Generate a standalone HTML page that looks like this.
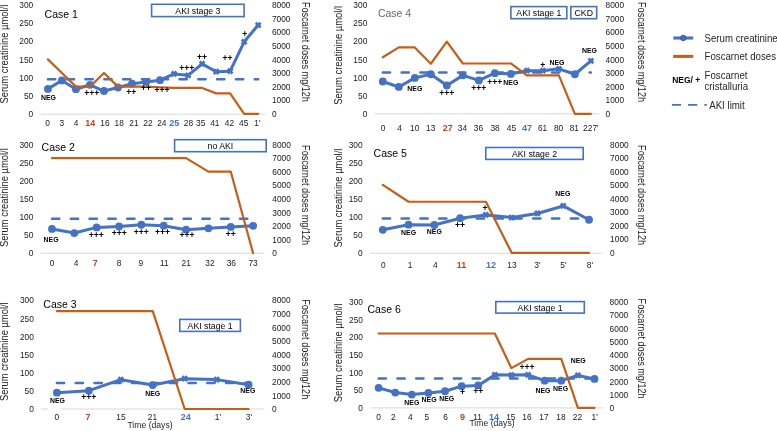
<!DOCTYPE html>
<html><head><meta charset="utf-8"><style>
html,body{margin:0;padding:0;background:#fff;width:777px;height:431px;overflow:hidden}
svg{display:block;font-family:"Liberation Sans", sans-serif;will-change:transform}
</style></head><body>
<svg width="777" height="431" viewBox="0 0 777 431">

<text transform="translate(33.20,116.99) scale(0.930,1)" font-size="9.0" text-anchor="end" fill="#202020" font-weight="normal">0</text>
<text transform="translate(33.20,98.86) scale(0.930,1)" font-size="9.0" text-anchor="end" fill="#202020" font-weight="normal">50</text>
<text transform="translate(33.20,80.73) scale(0.930,1)" font-size="9.0" text-anchor="end" fill="#202020" font-weight="normal">100</text>
<text transform="translate(33.20,62.59) scale(0.930,1)" font-size="9.0" text-anchor="end" fill="#202020" font-weight="normal">150</text>
<text transform="translate(33.20,44.46) scale(0.930,1)" font-size="9.0" text-anchor="end" fill="#202020" font-weight="normal">200</text>
<text transform="translate(33.20,26.33) scale(0.930,1)" font-size="9.0" text-anchor="end" fill="#202020" font-weight="normal">250</text>
<text transform="translate(33.20,8.20) scale(0.930,1)" font-size="9.0" text-anchor="end" fill="#202020" font-weight="normal">300</text>
<text transform="translate(271.90,116.99) scale(0.930,1)" font-size="9.0" text-anchor="start" fill="#202020" font-weight="normal">0</text>
<text transform="translate(271.90,103.39) scale(0.930,1)" font-size="9.0" text-anchor="start" fill="#202020" font-weight="normal">1000</text>
<text transform="translate(271.90,89.79) scale(0.930,1)" font-size="9.0" text-anchor="start" fill="#202020" font-weight="normal">2000</text>
<text transform="translate(271.90,76.19) scale(0.930,1)" font-size="9.0" text-anchor="start" fill="#202020" font-weight="normal">3000</text>
<text transform="translate(271.90,62.59) scale(0.930,1)" font-size="9.0" text-anchor="start" fill="#202020" font-weight="normal">4000</text>
<text transform="translate(271.90,48.99) scale(0.930,1)" font-size="9.0" text-anchor="start" fill="#202020" font-weight="normal">5000</text>
<text transform="translate(271.90,35.40) scale(0.930,1)" font-size="9.0" text-anchor="start" fill="#202020" font-weight="normal">6000</text>
<text transform="translate(271.90,21.79) scale(0.930,1)" font-size="9.0" text-anchor="start" fill="#202020" font-weight="normal">7000</text>
<text transform="translate(271.90,8.20) scale(0.930,1)" font-size="9.0" text-anchor="start" fill="#202020" font-weight="normal">8000</text>
<line x1="40.90" y1="114.20" x2="265.20" y2="114.20" stroke="#d9d9d9" stroke-width="1.0"/>
<text transform="translate(47.70,125.89) scale(0.930,1)" font-size="9.0" text-anchor="middle" fill="#202020" font-weight="normal">0</text>
<text transform="translate(61.90,125.89) scale(0.930,1)" font-size="9.0" text-anchor="middle" fill="#202020" font-weight="normal">3</text>
<text transform="translate(76.10,125.89) scale(0.930,1)" font-size="9.0" text-anchor="middle" fill="#202020" font-weight="normal">4</text>
<text x="90.30" y="125.89" font-size="9.0" text-anchor="middle" fill="#c5401f" font-weight="bold" >14</text>
<text transform="translate(105.00,125.89) scale(0.930,1)" font-size="9.0" text-anchor="middle" fill="#202020" font-weight="normal">16</text>
<text transform="translate(119.20,125.89) scale(0.930,1)" font-size="9.0" text-anchor="middle" fill="#202020" font-weight="normal">18</text>
<text transform="translate(134.00,125.89) scale(0.930,1)" font-size="9.0" text-anchor="middle" fill="#202020" font-weight="normal">21</text>
<text transform="translate(148.00,125.89) scale(0.930,1)" font-size="9.0" text-anchor="middle" fill="#202020" font-weight="normal">22</text>
<text transform="translate(161.80,125.89) scale(0.930,1)" font-size="9.0" text-anchor="middle" fill="#202020" font-weight="normal">24</text>
<text x="174.30" y="125.89" font-size="9.0" text-anchor="middle" fill="#4472c4" font-weight="bold" >25</text>
<text transform="translate(188.50,125.89) scale(0.930,1)" font-size="9.0" text-anchor="middle" fill="#202020" font-weight="normal">28</text>
<text transform="translate(200.70,125.89) scale(0.930,1)" font-size="9.0" text-anchor="middle" fill="#202020" font-weight="normal">35</text>
<text transform="translate(214.80,125.89) scale(0.930,1)" font-size="9.0" text-anchor="middle" fill="#202020" font-weight="normal">41</text>
<text transform="translate(229.50,125.89) scale(0.930,1)" font-size="9.0" text-anchor="middle" fill="#202020" font-weight="normal">42</text>
<text transform="translate(243.70,125.89) scale(0.930,1)" font-size="9.0" text-anchor="middle" fill="#202020" font-weight="normal">45</text>
<text transform="translate(257.50,125.89) scale(0.930,1)" font-size="9.0" text-anchor="middle" fill="#202020" font-weight="normal">1'</text>
<text x="0.00" y="0.00" font-size="10.0" text-anchor="middle" fill="#202020" font-weight="normal" transform="translate(8.30,54.10) rotate(-90) scale(0.94,1)">Serum creatinine µmol/l</text>
<text x="0.00" y="0.00" font-size="10.0" text-anchor="middle" fill="#202020" font-weight="normal" transform="translate(301.70,51.90) rotate(90) scale(0.91,1)">Foscarnet doses mg/12h</text>
<text x="44.60" y="18.00" font-size="10.5" text-anchor="start" fill="#000" font-weight="normal" >Case 1</text>
<rect x="151.60" y="4.30" width="92.50" height="12.30" fill="#fff" stroke="#4472c4" stroke-width="1.6"/>
<text transform="translate(197.85,14.16) scale(0.890,1)" font-size="9.8" text-anchor="middle" fill="#000" font-weight="normal">AKI stage 3</text>
<line x1="47.91" y1="79.35" x2="258.19" y2="79.35" stroke="#4472c4" stroke-width="2.5" stroke-dasharray="7.3 11.5" stroke-linecap="round"/>
<polyline points="47.91,88.88 61.93,80.47 75.95,89.21 89.97,84.79 103.98,91.02 118.00,87.51 132.02,83.70 146.04,81.89 160.06,80.22 174.08,73.91 188.10,75.36 202.12,63.86 216.13,71.73 230.15,71.19 244.17,41.81 258.19,25.06" fill="none" stroke="#4472c4" stroke-width="3" stroke-linejoin="round"/>
<circle cx="47.91" cy="88.88" r="3.9" fill="#4472c4"/>
<circle cx="61.93" cy="80.47" r="3.9" fill="#4472c4"/>
<circle cx="75.95" cy="89.21" r="3.9" fill="#4472c4"/>
<circle cx="89.97" cy="84.79" r="3.9" fill="#4472c4"/>
<circle cx="103.98" cy="91.02" r="3.9" fill="#4472c4"/>
<circle cx="118.00" cy="87.51" r="3.9" fill="#4472c4"/>
<circle cx="132.02" cy="83.70" r="3.9" fill="#4472c4"/>
<circle cx="146.04" cy="81.89" r="3.9" fill="#4472c4"/>
<circle cx="160.06" cy="80.22" r="3.9" fill="#4472c4"/>
<path d="M171.68,71.51L176.48,76.31M176.48,71.51L171.68,76.31" stroke="#4472c4" stroke-width="2.8" stroke-linecap="butt"/>
<path d="M185.70,72.96L190.50,77.76M190.50,72.96L185.70,77.76" stroke="#4472c4" stroke-width="2.8" stroke-linecap="butt"/>
<path d="M199.72,61.46L204.52,66.26M204.52,61.46L199.72,66.26" stroke="#4472c4" stroke-width="2.8" stroke-linecap="butt"/>
<path d="M213.73,69.33L218.53,74.13M218.53,69.33L213.73,74.13" stroke="#4472c4" stroke-width="2.8" stroke-linecap="butt"/>
<path d="M227.75,68.79L232.55,73.59M232.55,68.79L227.75,73.59" stroke="#4472c4" stroke-width="2.8" stroke-linecap="butt"/>
<path d="M241.77,39.41L246.57,44.21M246.57,39.41L241.77,44.21" stroke="#4472c4" stroke-width="2.8" stroke-linecap="butt"/>
<path d="M255.79,22.66L260.59,27.46M260.59,22.66L255.79,27.46" stroke="#4472c4" stroke-width="2.8" stroke-linecap="butt"/>
<polyline points="47.91,59.40 61.93,73.00 75.95,86.60 89.97,86.60 103.98,73.00 118.00,86.60 132.02,86.60 146.04,86.60 160.06,87.28 174.08,87.96 188.10,87.96 202.12,87.96 216.13,93.40 230.15,93.40 244.17,113.80 258.19,113.80" fill="none" stroke="#c55e17" stroke-width="2.2" stroke-linejoin="round" stroke-linecap="round"/>
<text transform="translate(48.41,99.71) scale(0.950,1)" font-size="7.3" text-anchor="middle" fill="#000" font-weight="bold">NEG</text>
<text x="91.67" y="96.44" font-size="8.6" text-anchor="middle" fill="#000" font-weight="bold" >+++</text>
<text x="131.32" y="94.84" font-size="8.6" text-anchor="middle" fill="#000" font-weight="bold" >++</text>
<text x="146.04" y="91.44" font-size="8.6" text-anchor="middle" fill="#000" font-weight="bold" >++</text>
<text x="162.06" y="93.24" font-size="8.6" text-anchor="middle" fill="#000" font-weight="bold" >+++</text>
<text x="186.70" y="70.84" font-size="8.6" text-anchor="middle" fill="#000" font-weight="bold" >+++</text>
<text x="202.12" y="60.24" font-size="8.6" text-anchor="middle" fill="#000" font-weight="bold" >++</text>
<text x="227.55" y="60.54" font-size="8.6" text-anchor="middle" fill="#000" font-weight="bold" >++</text>
<text x="244.77" y="36.64" font-size="8.6" text-anchor="middle" fill="#000" font-weight="bold" >+</text>
<text transform="translate(367.30,116.99) scale(0.930,1)" font-size="9.0" text-anchor="end" fill="#202020" font-weight="normal">0</text>
<text transform="translate(367.30,98.86) scale(0.930,1)" font-size="9.0" text-anchor="end" fill="#202020" font-weight="normal">50</text>
<text transform="translate(367.30,80.73) scale(0.930,1)" font-size="9.0" text-anchor="end" fill="#202020" font-weight="normal">100</text>
<text transform="translate(367.30,62.59) scale(0.930,1)" font-size="9.0" text-anchor="end" fill="#202020" font-weight="normal">150</text>
<text transform="translate(367.30,44.46) scale(0.930,1)" font-size="9.0" text-anchor="end" fill="#202020" font-weight="normal">200</text>
<text transform="translate(367.30,26.33) scale(0.930,1)" font-size="9.0" text-anchor="end" fill="#202020" font-weight="normal">250</text>
<text transform="translate(367.30,8.20) scale(0.930,1)" font-size="9.0" text-anchor="end" fill="#202020" font-weight="normal">300</text>
<text transform="translate(605.50,116.99) scale(0.930,1)" font-size="9.0" text-anchor="start" fill="#202020" font-weight="normal">0</text>
<text transform="translate(605.50,103.39) scale(0.930,1)" font-size="9.0" text-anchor="start" fill="#202020" font-weight="normal">1000</text>
<text transform="translate(605.50,89.79) scale(0.930,1)" font-size="9.0" text-anchor="start" fill="#202020" font-weight="normal">2000</text>
<text transform="translate(605.50,76.19) scale(0.930,1)" font-size="9.0" text-anchor="start" fill="#202020" font-weight="normal">3000</text>
<text transform="translate(605.50,62.59) scale(0.930,1)" font-size="9.0" text-anchor="start" fill="#202020" font-weight="normal">4000</text>
<text transform="translate(605.50,48.99) scale(0.930,1)" font-size="9.0" text-anchor="start" fill="#202020" font-weight="normal">5000</text>
<text transform="translate(605.50,35.40) scale(0.930,1)" font-size="9.0" text-anchor="start" fill="#202020" font-weight="normal">6000</text>
<text transform="translate(605.50,21.79) scale(0.930,1)" font-size="9.0" text-anchor="start" fill="#202020" font-weight="normal">7000</text>
<text transform="translate(605.50,8.20) scale(0.930,1)" font-size="9.0" text-anchor="start" fill="#202020" font-weight="normal">8000</text>
<line x1="374.80" y1="113.80" x2="598.90" y2="113.80" stroke="#d9d9d9" stroke-width="1.0"/>
<text transform="translate(383.00,131.00) scale(0.930,1)" font-size="9.0" text-anchor="middle" fill="#202020" font-weight="normal">0</text>
<text transform="translate(399.50,131.00) scale(0.930,1)" font-size="9.0" text-anchor="middle" fill="#202020" font-weight="normal">4</text>
<text transform="translate(414.70,131.00) scale(0.930,1)" font-size="9.0" text-anchor="middle" fill="#202020" font-weight="normal">10</text>
<text transform="translate(430.70,131.00) scale(0.930,1)" font-size="9.0" text-anchor="middle" fill="#202020" font-weight="normal">13</text>
<text x="447.80" y="131.00" font-size="9.0" text-anchor="middle" fill="#c5401f" font-weight="bold" >27</text>
<text transform="translate(462.50,131.00) scale(0.930,1)" font-size="9.0" text-anchor="middle" fill="#202020" font-weight="normal">34</text>
<text transform="translate(478.50,131.00) scale(0.930,1)" font-size="9.0" text-anchor="middle" fill="#202020" font-weight="normal">36</text>
<text transform="translate(495.10,131.00) scale(0.930,1)" font-size="9.0" text-anchor="middle" fill="#202020" font-weight="normal">38</text>
<text transform="translate(511.50,131.00) scale(0.930,1)" font-size="9.0" text-anchor="middle" fill="#202020" font-weight="normal">45</text>
<text x="526.90" y="131.00" font-size="9.0" text-anchor="middle" fill="#4472c4" font-weight="bold" >47</text>
<text transform="translate(542.60,131.00) scale(0.930,1)" font-size="9.0" text-anchor="middle" fill="#202020" font-weight="normal">61</text>
<text transform="translate(558.60,131.00) scale(0.930,1)" font-size="9.0" text-anchor="middle" fill="#202020" font-weight="normal">80</text>
<text transform="translate(574.30,131.00) scale(0.930,1)" font-size="9.0" text-anchor="middle" fill="#202020" font-weight="normal">81</text>
<text transform="translate(590.90,131.00) scale(0.930,1)" font-size="9.0" text-anchor="middle" fill="#202020" font-weight="normal">227'</text>
<text x="0.00" y="0.00" font-size="10.0" text-anchor="middle" fill="#202020" font-weight="normal" transform="translate(342.30,55.40) rotate(-90) scale(0.94,1)">Serum creatinine µmol/l</text>
<text x="0.00" y="0.00" font-size="10.0" text-anchor="middle" fill="#202020" font-weight="normal" transform="translate(637.70,52.05) rotate(90) scale(0.91,1)">Foscarnet doses mg/12h</text>
<text x="377.90" y="16.70" font-size="10.5" text-anchor="start" fill="#6a6a6a" font-weight="normal" >Case 4</text>
<rect x="510.90" y="6.60" width="55.90" height="12.10" fill="#fff" stroke="#4472c4" stroke-width="1.6"/>
<text transform="translate(538.85,16.36) scale(0.890,1)" font-size="9.8" text-anchor="middle" fill="#000" font-weight="normal">AKI stage 1</text>
<rect x="570.80" y="6.60" width="25.90" height="12.10" fill="#fff" stroke="#4472c4" stroke-width="1.6"/>
<text transform="translate(583.75,16.36) scale(0.890,1)" font-size="9.8" text-anchor="middle" fill="#000" font-weight="normal">CKD</text>
<line x1="382.80" y1="72.46" x2="590.90" y2="72.46" stroke="#4472c4" stroke-width="2.5" stroke-dasharray="7.3 11.5" stroke-linecap="round"/>
<polyline points="382.80,81.52 398.81,86.96 414.82,77.90 430.82,74.27 446.83,85.51 462.84,75.36 478.85,80.43 494.85,73.18 510.86,73.91 526.87,70.64 542.88,70.64 558.88,68.83 574.89,74.27 590.90,60.85" fill="none" stroke="#4472c4" stroke-width="3" stroke-linejoin="round"/>
<circle cx="382.80" cy="81.52" r="3.9" fill="#4472c4"/>
<circle cx="398.81" cy="86.96" r="3.9" fill="#4472c4"/>
<circle cx="414.82" cy="77.90" r="3.9" fill="#4472c4"/>
<circle cx="430.82" cy="74.27" r="3.9" fill="#4472c4"/>
<circle cx="446.83" cy="85.51" r="3.9" fill="#4472c4"/>
<circle cx="462.84" cy="75.36" r="3.9" fill="#4472c4"/>
<circle cx="478.85" cy="80.43" r="3.9" fill="#4472c4"/>
<circle cx="494.85" cy="73.18" r="3.9" fill="#4472c4"/>
<circle cx="510.86" cy="73.91" r="3.9" fill="#4472c4"/>
<path d="M524.47,68.24L529.27,73.04M529.27,68.24L524.47,73.04" stroke="#4472c4" stroke-width="2.8" stroke-linecap="butt"/>
<path d="M540.48,68.24L545.27,73.04M545.27,68.24L540.48,73.04" stroke="#4472c4" stroke-width="2.8" stroke-linecap="butt"/>
<path d="M556.48,66.43L561.28,71.23M561.28,66.43L556.48,71.23" stroke="#4472c4" stroke-width="2.8" stroke-linecap="butt"/>
<circle cx="574.89" cy="74.27" r="3.9" fill="#4472c4"/>
<path d="M588.50,58.45L593.30,63.25M593.30,58.45L588.50,63.25" stroke="#4472c4" stroke-width="2.8" stroke-linecap="butt"/>
<polyline points="382.80,57.22 398.81,47.43 414.82,47.43 430.82,63.75 446.83,41.72 462.84,63.48 478.85,63.48 494.85,63.48 510.86,63.48 526.87,75.31 542.88,75.31 558.88,75.31 574.89,113.80 590.90,113.80" fill="none" stroke="#c55e17" stroke-width="2.2" stroke-linejoin="round" stroke-linecap="round"/>
<text transform="translate(414.82,91.01) scale(0.950,1)" font-size="7.3" text-anchor="middle" fill="#000" font-weight="bold">NEG</text>
<text x="446.83" y="96.34" font-size="8.6" text-anchor="middle" fill="#000" font-weight="bold" >+++</text>
<text x="478.85" y="91.24" font-size="8.6" text-anchor="middle" fill="#000" font-weight="bold" >+++</text>
<text x="494.85" y="84.84" font-size="8.6" text-anchor="middle" fill="#000" font-weight="bold" >+++</text>
<text transform="translate(510.86,84.61) scale(0.950,1)" font-size="7.3" text-anchor="middle" fill="#000" font-weight="bold">NEG</text>
<text x="542.88" y="67.74" font-size="8.6" text-anchor="middle" fill="#000" font-weight="bold" >+</text>
<text transform="translate(556.88,64.51) scale(0.950,1)" font-size="7.3" text-anchor="middle" fill="#000" font-weight="bold">NEG</text>
<text transform="translate(589.40,53.01) scale(0.950,1)" font-size="7.3" text-anchor="middle" fill="#000" font-weight="bold">NEG</text>
<text transform="translate(33.40,256.39) scale(0.930,1)" font-size="9.0" text-anchor="end" fill="#202020" font-weight="normal">0</text>
<text transform="translate(33.40,238.28) scale(0.930,1)" font-size="9.0" text-anchor="end" fill="#202020" font-weight="normal">50</text>
<text transform="translate(33.40,220.16) scale(0.930,1)" font-size="9.0" text-anchor="end" fill="#202020" font-weight="normal">100</text>
<text transform="translate(33.40,202.04) scale(0.930,1)" font-size="9.0" text-anchor="end" fill="#202020" font-weight="normal">150</text>
<text transform="translate(33.40,183.93) scale(0.930,1)" font-size="9.0" text-anchor="end" fill="#202020" font-weight="normal">200</text>
<text transform="translate(33.40,165.81) scale(0.930,1)" font-size="9.0" text-anchor="end" fill="#202020" font-weight="normal">250</text>
<text transform="translate(33.40,147.69) scale(0.930,1)" font-size="9.0" text-anchor="end" fill="#202020" font-weight="normal">300</text>
<text transform="translate(272.30,256.39) scale(0.930,1)" font-size="9.0" text-anchor="start" fill="#202020" font-weight="normal">0</text>
<text transform="translate(272.30,242.81) scale(0.930,1)" font-size="9.0" text-anchor="start" fill="#202020" font-weight="normal">1000</text>
<text transform="translate(272.30,229.22) scale(0.930,1)" font-size="9.0" text-anchor="start" fill="#202020" font-weight="normal">2000</text>
<text transform="translate(272.30,215.63) scale(0.930,1)" font-size="9.0" text-anchor="start" fill="#202020" font-weight="normal">3000</text>
<text transform="translate(272.30,202.04) scale(0.930,1)" font-size="9.0" text-anchor="start" fill="#202020" font-weight="normal">4000</text>
<text transform="translate(272.30,188.46) scale(0.930,1)" font-size="9.0" text-anchor="start" fill="#202020" font-weight="normal">5000</text>
<text transform="translate(272.30,174.87) scale(0.930,1)" font-size="9.0" text-anchor="start" fill="#202020" font-weight="normal">6000</text>
<text transform="translate(272.30,161.28) scale(0.930,1)" font-size="9.0" text-anchor="start" fill="#202020" font-weight="normal">7000</text>
<text transform="translate(272.30,147.69) scale(0.930,1)" font-size="9.0" text-anchor="start" fill="#202020" font-weight="normal">8000</text>
<line x1="40.80" y1="253.20" x2="264.30" y2="253.20" stroke="#d9d9d9" stroke-width="1.0"/>
<text transform="translate(52.00,266.39) scale(0.930,1)" font-size="9.0" text-anchor="middle" fill="#202020" font-weight="normal">0</text>
<text transform="translate(76.10,266.39) scale(0.930,1)" font-size="9.0" text-anchor="middle" fill="#202020" font-weight="normal">4</text>
<text x="95.20" y="266.39" font-size="9.0" text-anchor="middle" fill="#c5401f" font-weight="bold" >7</text>
<text transform="translate(119.00,266.39) scale(0.930,1)" font-size="9.0" text-anchor="middle" fill="#202020" font-weight="normal">8</text>
<text transform="translate(140.80,266.39) scale(0.930,1)" font-size="9.0" text-anchor="middle" fill="#202020" font-weight="normal">9</text>
<text transform="translate(164.40,266.39) scale(0.930,1)" font-size="9.0" text-anchor="middle" fill="#202020" font-weight="normal">11</text>
<text transform="translate(186.20,266.39) scale(0.930,1)" font-size="9.0" text-anchor="middle" fill="#202020" font-weight="normal">21</text>
<text transform="translate(209.90,266.39) scale(0.930,1)" font-size="9.0" text-anchor="middle" fill="#202020" font-weight="normal">32</text>
<text transform="translate(231.30,266.39) scale(0.930,1)" font-size="9.0" text-anchor="middle" fill="#202020" font-weight="normal">36</text>
<text transform="translate(253.10,266.39) scale(0.930,1)" font-size="9.0" text-anchor="middle" fill="#202020" font-weight="normal">73</text>
<text x="0.00" y="0.00" font-size="10.0" text-anchor="middle" fill="#202020" font-weight="normal" transform="translate(8.30,197.60) rotate(-90) scale(0.94,1)">Serum creatinine µmol/l</text>
<text x="0.00" y="0.00" font-size="10.0" text-anchor="middle" fill="#202020" font-weight="normal" transform="translate(301.70,195.10) rotate(90) scale(0.91,1)">Foscarnet doses mg/12h</text>
<text x="41.60" y="150.60" font-size="10.5" text-anchor="start" fill="#000" font-weight="normal" >Case 2</text>
<rect x="174.60" y="139.70" width="91.60" height="12.00" fill="#fff" stroke="#4472c4" stroke-width="1.6"/>
<text transform="translate(220.40,149.41) scale(0.890,1)" font-size="9.8" text-anchor="middle" fill="#000" font-weight="normal">no AKI</text>
<line x1="51.97" y1="218.85" x2="253.12" y2="218.85" stroke="#4472c4" stroke-width="2.5" stroke-dasharray="7.3 11.5" stroke-linecap="round"/>
<polyline points="51.97,228.92 74.33,233.05 96.67,227.40 119.03,226.39 141.38,224.76 163.73,225.66 186.07,229.65 208.43,228.34 230.78,226.89 253.12,225.81" fill="none" stroke="#4472c4" stroke-width="3" stroke-linejoin="round"/>
<circle cx="51.97" cy="228.92" r="3.9" fill="#4472c4"/>
<circle cx="74.33" cy="233.05" r="3.9" fill="#4472c4"/>
<circle cx="96.67" cy="227.40" r="3.9" fill="#4472c4"/>
<circle cx="119.03" cy="226.39" r="3.9" fill="#4472c4"/>
<circle cx="141.38" cy="224.76" r="3.9" fill="#4472c4"/>
<circle cx="163.73" cy="225.66" r="3.9" fill="#4472c4"/>
<circle cx="186.07" cy="229.65" r="3.9" fill="#4472c4"/>
<circle cx="208.43" cy="228.34" r="3.9" fill="#4472c4"/>
<circle cx="230.78" cy="226.89" r="3.9" fill="#4472c4"/>
<circle cx="253.12" cy="225.81" r="3.9" fill="#4472c4"/>
<polyline points="51.97,158.09 74.33,158.09 96.67,158.09 119.03,158.09 141.38,158.09 163.73,158.09 186.07,158.09 208.43,171.68 230.78,171.68 253.12,253.20" fill="none" stroke="#c55e17" stroke-width="2.2" stroke-linejoin="round" stroke-linecap="round"/>
<text transform="translate(51.07,242.01) scale(0.950,1)" font-size="7.3" text-anchor="middle" fill="#000" font-weight="bold">NEG</text>
<text x="96.17" y="238.24" font-size="8.6" text-anchor="middle" fill="#000" font-weight="bold" >+++</text>
<text x="119.23" y="235.64" font-size="8.6" text-anchor="middle" fill="#000" font-weight="bold" >+++</text>
<text x="141.18" y="234.74" font-size="8.6" text-anchor="middle" fill="#000" font-weight="bold" >+++</text>
<text x="162.43" y="234.84" font-size="8.6" text-anchor="middle" fill="#000" font-weight="bold" >+++</text>
<text x="187.07" y="237.84" font-size="8.6" text-anchor="middle" fill="#000" font-weight="bold" >+++</text>
<text x="230.78" y="236.84" font-size="8.6" text-anchor="middle" fill="#000" font-weight="bold" >++</text>
<text transform="translate(362.60,256.00) scale(0.930,1)" font-size="9.0" text-anchor="end" fill="#202020" font-weight="normal">0</text>
<text transform="translate(362.60,237.94) scale(0.930,1)" font-size="9.0" text-anchor="end" fill="#202020" font-weight="normal">50</text>
<text transform="translate(362.60,219.90) scale(0.930,1)" font-size="9.0" text-anchor="end" fill="#202020" font-weight="normal">100</text>
<text transform="translate(362.60,201.84) scale(0.930,1)" font-size="9.0" text-anchor="end" fill="#202020" font-weight="normal">150</text>
<text transform="translate(362.60,183.80) scale(0.930,1)" font-size="9.0" text-anchor="end" fill="#202020" font-weight="normal">200</text>
<text transform="translate(362.60,165.75) scale(0.930,1)" font-size="9.0" text-anchor="end" fill="#202020" font-weight="normal">250</text>
<text transform="translate(362.60,147.69) scale(0.930,1)" font-size="9.0" text-anchor="end" fill="#202020" font-weight="normal">300</text>
<text transform="translate(610.10,256.00) scale(0.930,1)" font-size="9.0" text-anchor="start" fill="#202020" font-weight="normal">0</text>
<text transform="translate(610.10,242.46) scale(0.930,1)" font-size="9.0" text-anchor="start" fill="#202020" font-weight="normal">1000</text>
<text transform="translate(610.10,228.92) scale(0.930,1)" font-size="9.0" text-anchor="start" fill="#202020" font-weight="normal">2000</text>
<text transform="translate(610.10,215.38) scale(0.930,1)" font-size="9.0" text-anchor="start" fill="#202020" font-weight="normal">3000</text>
<text transform="translate(610.10,201.84) scale(0.930,1)" font-size="9.0" text-anchor="start" fill="#202020" font-weight="normal">4000</text>
<text transform="translate(610.10,188.31) scale(0.930,1)" font-size="9.0" text-anchor="start" fill="#202020" font-weight="normal">5000</text>
<text transform="translate(610.10,174.77) scale(0.930,1)" font-size="9.0" text-anchor="start" fill="#202020" font-weight="normal">6000</text>
<text transform="translate(610.10,161.23) scale(0.930,1)" font-size="9.0" text-anchor="start" fill="#202020" font-weight="normal">7000</text>
<text transform="translate(610.10,147.69) scale(0.930,1)" font-size="9.0" text-anchor="start" fill="#202020" font-weight="normal">8000</text>
<line x1="369.90" y1="253.30" x2="601.90" y2="253.30" stroke="#d9d9d9" stroke-width="1.0"/>
<text transform="translate(383.40,268.09) scale(0.930,1)" font-size="9.0" text-anchor="middle" fill="#202020" font-weight="normal">0</text>
<text transform="translate(410.00,268.09) scale(0.930,1)" font-size="9.0" text-anchor="middle" fill="#202020" font-weight="normal">1</text>
<text transform="translate(435.40,268.09) scale(0.930,1)" font-size="9.0" text-anchor="middle" fill="#202020" font-weight="normal">4</text>
<text x="461.40" y="268.09" font-size="9.0" text-anchor="middle" fill="#c5401f" font-weight="bold" >11</text>
<text x="490.90" y="268.09" font-size="9.0" text-anchor="middle" fill="#4472c4" font-weight="bold" >12</text>
<text transform="translate(512.00,268.09) scale(0.930,1)" font-size="9.0" text-anchor="middle" fill="#202020" font-weight="normal">13</text>
<text transform="translate(537.50,268.09) scale(0.930,1)" font-size="9.0" text-anchor="middle" fill="#202020" font-weight="normal">3'</text>
<text transform="translate(563.50,268.09) scale(0.930,1)" font-size="9.0" text-anchor="middle" fill="#202020" font-weight="normal">5'</text>
<text transform="translate(590.00,268.09) scale(0.930,1)" font-size="9.0" text-anchor="middle" fill="#202020" font-weight="normal">8'</text>
<text x="0.00" y="0.00" font-size="10.0" text-anchor="middle" fill="#202020" font-weight="normal" transform="translate(342.30,198.00) rotate(-90) scale(0.94,1)">Serum creatinine µmol/l</text>
<text x="0.00" y="0.00" font-size="10.0" text-anchor="middle" fill="#202020" font-weight="normal" transform="translate(637.70,195.10) rotate(90) scale(0.91,1)">Foscarnet doses mg/12h</text>
<text x="373.60" y="157.10" font-size="10.5" text-anchor="start" fill="#000" font-weight="normal" >Case 5</text>
<rect x="485.80" y="147.50" width="97.40" height="11.90" fill="#fff" stroke="#4472c4" stroke-width="1.6"/>
<text transform="translate(534.50,157.16) scale(0.890,1)" font-size="9.8" text-anchor="middle" fill="#000" font-weight="normal">AKI stage 2</text>
<line x1="382.79" y1="218.50" x2="589.01" y2="218.50" stroke="#4472c4" stroke-width="2.5" stroke-dasharray="7.3 11.5" stroke-linecap="round"/>
<polyline points="382.79,229.84 408.57,224.71 434.34,225.00 460.12,218.22 485.90,214.93 511.68,217.53 537.46,213.45 563.23,205.94 589.01,219.77" fill="none" stroke="#4472c4" stroke-width="3" stroke-linejoin="round"/>
<circle cx="382.79" cy="229.84" r="3.9" fill="#4472c4"/>
<circle cx="408.57" cy="224.71" r="3.9" fill="#4472c4"/>
<circle cx="434.34" cy="225.00" r="3.9" fill="#4472c4"/>
<circle cx="460.12" cy="218.22" r="3.9" fill="#4472c4"/>
<path d="M483.50,212.53L488.30,217.33M488.30,212.53L483.50,217.33" stroke="#4472c4" stroke-width="2.8" stroke-linecap="butt"/>
<path d="M509.28,215.13L514.08,219.93M514.08,215.13L509.28,219.93" stroke="#4472c4" stroke-width="2.8" stroke-linecap="butt"/>
<path d="M535.06,211.05L539.86,215.85M539.86,211.05L535.06,215.85" stroke="#4472c4" stroke-width="2.8" stroke-linecap="butt"/>
<path d="M560.83,203.54L565.63,208.34M565.63,203.54L560.83,208.34" stroke="#4472c4" stroke-width="2.8" stroke-linecap="butt"/>
<circle cx="589.01" cy="219.77" r="3.9" fill="#4472c4"/>
<polyline points="382.79,184.91 408.57,201.74 434.34,201.74 460.12,201.74 485.90,201.74 511.68,252.80 537.46,252.80 563.23,252.80 589.01,252.80" fill="none" stroke="#c55e17" stroke-width="2.2" stroke-linejoin="round" stroke-linecap="round"/>
<text transform="translate(408.57,235.21) scale(0.950,1)" font-size="7.3" text-anchor="middle" fill="#000" font-weight="bold">NEG</text>
<text transform="translate(434.34,234.41) scale(0.950,1)" font-size="7.3" text-anchor="middle" fill="#000" font-weight="bold">NEG</text>
<text x="460.12" y="227.84" font-size="8.6" text-anchor="middle" fill="#000" font-weight="bold" >++</text>
<text x="484.90" y="210.84" font-size="8.6" text-anchor="middle" fill="#000" font-weight="bold" >+</text>
<text transform="translate(562.83,195.81) scale(0.950,1)" font-size="7.3" text-anchor="middle" fill="#000" font-weight="bold">NEG</text>
<text transform="translate(33.90,412.19) scale(0.930,1)" font-size="9.0" text-anchor="end" fill="#202020" font-weight="normal">0</text>
<text transform="translate(33.90,394.06) scale(0.930,1)" font-size="9.0" text-anchor="end" fill="#202020" font-weight="normal">50</text>
<text transform="translate(33.90,375.93) scale(0.930,1)" font-size="9.0" text-anchor="end" fill="#202020" font-weight="normal">100</text>
<text transform="translate(33.90,357.80) scale(0.930,1)" font-size="9.0" text-anchor="end" fill="#202020" font-weight="normal">150</text>
<text transform="translate(33.90,339.66) scale(0.930,1)" font-size="9.0" text-anchor="end" fill="#202020" font-weight="normal">200</text>
<text transform="translate(33.90,321.53) scale(0.930,1)" font-size="9.0" text-anchor="end" fill="#202020" font-weight="normal">250</text>
<text transform="translate(33.90,303.39) scale(0.930,1)" font-size="9.0" text-anchor="end" fill="#202020" font-weight="normal">300</text>
<text transform="translate(272.00,412.19) scale(0.930,1)" font-size="9.0" text-anchor="start" fill="#202020" font-weight="normal">0</text>
<text transform="translate(272.00,398.59) scale(0.930,1)" font-size="9.0" text-anchor="start" fill="#202020" font-weight="normal">1000</text>
<text transform="translate(272.00,385.00) scale(0.930,1)" font-size="9.0" text-anchor="start" fill="#202020" font-weight="normal">2000</text>
<text transform="translate(272.00,371.39) scale(0.930,1)" font-size="9.0" text-anchor="start" fill="#202020" font-weight="normal">3000</text>
<text transform="translate(272.00,357.80) scale(0.930,1)" font-size="9.0" text-anchor="start" fill="#202020" font-weight="normal">4000</text>
<text transform="translate(272.00,344.19) scale(0.930,1)" font-size="9.0" text-anchor="start" fill="#202020" font-weight="normal">5000</text>
<text transform="translate(272.00,330.59) scale(0.930,1)" font-size="9.0" text-anchor="start" fill="#202020" font-weight="normal">6000</text>
<text transform="translate(272.00,316.99) scale(0.930,1)" font-size="9.0" text-anchor="start" fill="#202020" font-weight="normal">7000</text>
<text transform="translate(272.00,303.39) scale(0.930,1)" font-size="9.0" text-anchor="start" fill="#202020" font-weight="normal">8000</text>
<line x1="40.90" y1="409.00" x2="264.60" y2="409.00" stroke="#d9d9d9" stroke-width="1.0"/>
<rect x="48" y="407.50" width="12.700000000000003" height="3" fill="#fff"/>
<text transform="translate(56.90,420.19) scale(0.930,1)" font-size="9.0" text-anchor="middle" fill="#202020" font-weight="normal">0</text>
<text x="88.00" y="420.19" font-size="9.0" text-anchor="middle" fill="#c5401f" font-weight="bold" >7</text>
<text transform="translate(120.90,420.19) scale(0.930,1)" font-size="9.0" text-anchor="middle" fill="#202020" font-weight="normal">15</text>
<text transform="translate(152.50,420.19) scale(0.930,1)" font-size="9.0" text-anchor="middle" fill="#202020" font-weight="normal">21</text>
<text x="185.70" y="420.19" font-size="9.0" text-anchor="middle" fill="#4472c4" font-weight="bold" >24</text>
<text transform="translate(217.90,420.19) scale(0.930,1)" font-size="9.0" text-anchor="middle" fill="#202020" font-weight="normal">1'</text>
<text transform="translate(249.00,420.19) scale(0.930,1)" font-size="9.0" text-anchor="middle" fill="#202020" font-weight="normal">3'</text>
<text x="0.00" y="0.00" font-size="10.0" text-anchor="middle" fill="#202020" font-weight="normal" transform="translate(8.30,351.70) rotate(-90) scale(0.94,1)">Serum creatinine µmol/l</text>
<text x="0.00" y="0.00" font-size="10.0" text-anchor="middle" fill="#202020" font-weight="normal" transform="translate(301.70,349.20) rotate(90) scale(0.91,1)">Foscarnet doses mg/12h</text>
<text x="43.30" y="308.00" font-size="10.5" text-anchor="start" fill="#000" font-weight="normal" >Case 3</text>
<rect x="179.80" y="319.40" width="60.60" height="12.00" fill="#fff" stroke="#4472c4" stroke-width="1.6"/>
<text transform="translate(210.10,329.11) scale(0.890,1)" font-size="9.8" text-anchor="middle" fill="#000" font-weight="normal">AKI stage 1</text>
<line x1="56.88" y1="383.03" x2="248.62" y2="383.03" stroke="#4472c4" stroke-width="2.5" stroke-dasharray="7.3 11.5" stroke-linecap="round"/>
<polyline points="56.88,392.68 88.84,390.65 120.79,379.70 152.75,385.06 184.71,378.68 216.66,379.62 248.62,384.70" fill="none" stroke="#4472c4" stroke-width="3" stroke-linejoin="round"/>
<circle cx="56.88" cy="392.68" r="3.9" fill="#4472c4"/>
<circle cx="88.84" cy="390.65" r="3.9" fill="#4472c4"/>
<path d="M118.39,377.30L123.19,382.10M123.19,377.30L118.39,382.10" stroke="#4472c4" stroke-width="2.8" stroke-linecap="butt"/>
<circle cx="152.75" cy="385.06" r="3.9" fill="#4472c4"/>
<path d="M182.31,376.28L187.11,381.08M187.11,376.28L182.31,381.08" stroke="#4472c4" stroke-width="2.8" stroke-linecap="butt"/>
<path d="M214.26,377.22L219.06,382.02M219.06,377.22L214.26,382.02" stroke="#4472c4" stroke-width="2.8" stroke-linecap="butt"/>
<circle cx="248.62" cy="384.70" r="3.9" fill="#4472c4"/>
<polyline points="56.88,311.08 88.84,311.08 120.79,311.08 152.75,311.08 184.71,409.00 216.66,409.00 248.62,409.00" fill="none" stroke="#c55e17" stroke-width="2.2" stroke-linejoin="round" stroke-linecap="round"/>
<text transform="translate(57.38,403.21) scale(0.950,1)" font-size="7.3" text-anchor="middle" fill="#000" font-weight="bold">NEG</text>
<text x="88.84" y="400.14" font-size="8.6" text-anchor="middle" fill="#000" font-weight="bold" >+++</text>
<text transform="translate(152.75,396.11) scale(0.950,1)" font-size="7.3" text-anchor="middle" fill="#000" font-weight="bold">NEG</text>
<text transform="translate(247.82,393.21) scale(0.950,1)" font-size="7.3" text-anchor="middle" fill="#000" font-weight="bold">NEG</text>
<text transform="translate(363.00,411.09) scale(0.930,1)" font-size="9.0" text-anchor="end" fill="#202020" font-weight="normal">0</text>
<text transform="translate(363.00,393.43) scale(0.930,1)" font-size="9.0" text-anchor="end" fill="#202020" font-weight="normal">50</text>
<text transform="translate(363.00,375.76) scale(0.930,1)" font-size="9.0" text-anchor="end" fill="#202020" font-weight="normal">100</text>
<text transform="translate(363.00,358.09) scale(0.930,1)" font-size="9.0" text-anchor="end" fill="#202020" font-weight="normal">150</text>
<text transform="translate(363.00,340.43) scale(0.930,1)" font-size="9.0" text-anchor="end" fill="#202020" font-weight="normal">200</text>
<text transform="translate(363.00,322.76) scale(0.930,1)" font-size="9.0" text-anchor="end" fill="#202020" font-weight="normal">250</text>
<text transform="translate(363.00,305.09) scale(0.930,1)" font-size="9.0" text-anchor="end" fill="#202020" font-weight="normal">300</text>
<text transform="translate(609.60,411.09) scale(0.930,1)" font-size="9.0" text-anchor="start" fill="#202020" font-weight="normal">0</text>
<text transform="translate(609.60,397.84) scale(0.930,1)" font-size="9.0" text-anchor="start" fill="#202020" font-weight="normal">1000</text>
<text transform="translate(609.60,384.59) scale(0.930,1)" font-size="9.0" text-anchor="start" fill="#202020" font-weight="normal">2000</text>
<text transform="translate(609.60,371.34) scale(0.930,1)" font-size="9.0" text-anchor="start" fill="#202020" font-weight="normal">3000</text>
<text transform="translate(609.60,358.09) scale(0.930,1)" font-size="9.0" text-anchor="start" fill="#202020" font-weight="normal">4000</text>
<text transform="translate(609.60,344.84) scale(0.930,1)" font-size="9.0" text-anchor="start" fill="#202020" font-weight="normal">5000</text>
<text transform="translate(609.60,331.59) scale(0.930,1)" font-size="9.0" text-anchor="start" fill="#202020" font-weight="normal">6000</text>
<text transform="translate(609.60,318.34) scale(0.930,1)" font-size="9.0" text-anchor="start" fill="#202020" font-weight="normal">7000</text>
<text transform="translate(609.60,305.09) scale(0.930,1)" font-size="9.0" text-anchor="start" fill="#202020" font-weight="normal">8000</text>
<line x1="370.30" y1="407.90" x2="602.80" y2="407.90" stroke="#d9d9d9" stroke-width="1.0"/>
<text transform="translate(378.70,420.09) scale(0.930,1)" font-size="9.0" text-anchor="middle" fill="#202020" font-weight="normal">0</text>
<text transform="translate(393.30,420.09) scale(0.930,1)" font-size="9.0" text-anchor="middle" fill="#202020" font-weight="normal">2</text>
<text transform="translate(410.30,420.09) scale(0.930,1)" font-size="9.0" text-anchor="middle" fill="#202020" font-weight="normal">4</text>
<text transform="translate(426.90,420.09) scale(0.930,1)" font-size="9.0" text-anchor="middle" fill="#202020" font-weight="normal">5</text>
<text transform="translate(445.70,420.09) scale(0.930,1)" font-size="9.0" text-anchor="middle" fill="#202020" font-weight="normal">6</text>
<text x="462.40" y="420.09" font-size="9.0" text-anchor="middle" fill="#c5401f" font-weight="bold" >9</text>
<text transform="translate(477.60,420.09) scale(0.930,1)" font-size="9.0" text-anchor="middle" fill="#202020" font-weight="normal">11</text>
<text x="493.90" y="420.09" font-size="9.0" text-anchor="middle" fill="#4472c4" font-weight="bold" >14</text>
<text transform="translate(510.80,420.09) scale(0.930,1)" font-size="9.0" text-anchor="middle" fill="#202020" font-weight="normal">15</text>
<text transform="translate(527.00,420.09) scale(0.930,1)" font-size="9.0" text-anchor="middle" fill="#202020" font-weight="normal">16</text>
<text transform="translate(544.00,420.09) scale(0.930,1)" font-size="9.0" text-anchor="middle" fill="#202020" font-weight="normal">17</text>
<text transform="translate(560.90,420.09) scale(0.930,1)" font-size="9.0" text-anchor="middle" fill="#202020" font-weight="normal">18</text>
<text transform="translate(577.50,420.09) scale(0.930,1)" font-size="9.0" text-anchor="middle" fill="#202020" font-weight="normal">22</text>
<text transform="translate(594.70,420.09) scale(0.930,1)" font-size="9.0" text-anchor="middle" fill="#202020" font-weight="normal">1'</text>
<text x="0.00" y="0.00" font-size="10.0" text-anchor="middle" fill="#202020" font-weight="normal" transform="translate(342.30,352.90) rotate(-90) scale(0.94,1)">Serum creatinine µmol/l</text>
<text x="0.00" y="0.00" font-size="10.0" text-anchor="middle" fill="#202020" font-weight="normal" transform="translate(637.70,348.60) rotate(90) scale(0.91,1)">Foscarnet doses mg/12h</text>
<text x="367.50" y="313.10" font-size="10.5" text-anchor="start" fill="#000" font-weight="normal" >Case 6</text>
<rect x="495.80" y="301.60" width="88.50" height="11.50" fill="#fff" stroke="#4472c4" stroke-width="1.6"/>
<text transform="translate(540.05,311.06) scale(0.890,1)" font-size="9.8" text-anchor="middle" fill="#000" font-weight="normal">AKI stage 1</text>
<line x1="378.60" y1="378.50" x2="594.50" y2="378.50" stroke="#4472c4" stroke-width="2.5" stroke-dasharray="7.3 11.5" stroke-linecap="round"/>
<polyline points="378.60,387.83 395.21,392.53 411.82,394.54 428.43,392.92 445.03,391.22 461.64,386.13 478.25,385.43 494.85,374.86 511.46,375.04 528.07,374.86 544.67,380.69 561.28,380.69 577.89,375.46 594.50,378.93" fill="none" stroke="#4472c4" stroke-width="3" stroke-linejoin="round"/>
<circle cx="378.60" cy="387.83" r="3.9" fill="#4472c4"/>
<circle cx="395.21" cy="392.53" r="3.9" fill="#4472c4"/>
<circle cx="411.82" cy="394.54" r="3.9" fill="#4472c4"/>
<circle cx="428.43" cy="392.92" r="3.9" fill="#4472c4"/>
<circle cx="445.03" cy="391.22" r="3.9" fill="#4472c4"/>
<circle cx="461.64" cy="386.13" r="3.9" fill="#4472c4"/>
<circle cx="478.25" cy="385.43" r="3.9" fill="#4472c4"/>
<path d="M492.45,372.46L497.25,377.26M497.25,372.46L492.45,377.26" stroke="#4472c4" stroke-width="2.8" stroke-linecap="butt"/>
<path d="M509.06,372.64L513.86,377.44M513.86,372.64L509.06,377.44" stroke="#4472c4" stroke-width="2.8" stroke-linecap="butt"/>
<path d="M525.67,372.46L530.47,377.26M530.47,372.46L525.67,377.26" stroke="#4472c4" stroke-width="2.8" stroke-linecap="butt"/>
<circle cx="544.67" cy="380.69" r="3.9" fill="#4472c4"/>
<circle cx="561.28" cy="380.69" r="3.9" fill="#4472c4"/>
<path d="M575.49,373.06L580.29,377.86M580.29,373.06L575.49,377.86" stroke="#4472c4" stroke-width="2.8" stroke-linecap="butt"/>
<circle cx="594.50" cy="378.93" r="3.9" fill="#4472c4"/>
<polyline points="378.60,333.51 395.21,333.51 411.82,333.51 428.43,333.51 445.03,333.51 461.64,333.51 478.25,333.51 494.85,333.51 511.46,368.15 528.07,358.88 544.67,358.88 561.28,358.88 577.89,407.90 594.50,407.90" fill="none" stroke="#c55e17" stroke-width="2.2" stroke-linejoin="round" stroke-linecap="round"/>
<text transform="translate(411.82,405.41) scale(0.950,1)" font-size="7.3" text-anchor="middle" fill="#000" font-weight="bold">NEG</text>
<text transform="translate(429.03,402.01) scale(0.950,1)" font-size="7.3" text-anchor="middle" fill="#000" font-weight="bold">NEG</text>
<text transform="translate(446.73,401.31) scale(0.950,1)" font-size="7.3" text-anchor="middle" fill="#000" font-weight="bold">NEG</text>
<text x="462.64" y="395.14" font-size="8.6" text-anchor="middle" fill="#000" font-weight="bold" >+</text>
<text x="478.25" y="393.84" font-size="8.6" text-anchor="middle" fill="#000" font-weight="bold" >++</text>
<text x="527.07" y="370.04" font-size="8.6" text-anchor="middle" fill="#000" font-weight="bold" >+++</text>
<text transform="translate(542.97,392.61) scale(0.950,1)" font-size="7.3" text-anchor="middle" fill="#000" font-weight="bold">NEG</text>
<text transform="translate(560.58,390.81) scale(0.950,1)" font-size="7.3" text-anchor="middle" fill="#000" font-weight="bold">NEG</text>
<text transform="translate(578.19,362.81) scale(0.950,1)" font-size="7.3" text-anchor="middle" fill="#000" font-weight="bold">NEG</text>
<text transform="translate(150.00,427.80) scale(0.960,1)" font-size="9.0" text-anchor="middle" fill="#262626" font-weight="normal">Time (days)</text>
<text transform="translate(492.00,426.30) scale(0.960,1)" font-size="9.0" text-anchor="middle" fill="#262626" font-weight="normal">Time (days)</text>
<line x1="673.4" y1="38" x2="693.2" y2="38" stroke="#4472c4" stroke-width="3.1"/>
<circle cx="683.3" cy="38" r="2.7" fill="#4472c4" stroke="#2f5597" stroke-width="1"/>
<text transform="translate(704.50,41.79) scale(0.915,1)" font-size="10.6" text-anchor="start" fill="#262626" font-weight="normal">Serum creatinine</text>
<line x1="673.2" y1="56.4" x2="693.3" y2="56.4" stroke="#c55e17" stroke-width="3.0"/>
<text transform="translate(704.50,60.39) scale(0.915,1)" font-size="10.6" text-anchor="start" fill="#262626" font-weight="normal">Foscarnet doses</text>
<text x="672.20" y="83.30" font-size="8.45" text-anchor="start" fill="#000" font-weight="bold" >NEG/ +</text>
<text transform="translate(704.50,79.09) scale(0.915,1)" font-size="10.6" text-anchor="start" fill="#262626" font-weight="normal">Foscarnet</text>
<text transform="translate(704.50,90.19) scale(0.915,1)" font-size="10.6" text-anchor="start" fill="#262626" font-weight="normal">cristalluria</text>
<line x1="671.9" y1="104.8" x2="706.8" y2="104.8" stroke="#4472c4" stroke-width="1.7" stroke-dasharray="9.2 7"/>
<text transform="translate(709.20,108.59) scale(0.915,1)" font-size="10.6" text-anchor="start" fill="#262626" font-weight="normal">AKI limit</text>
</svg>
</body></html>
